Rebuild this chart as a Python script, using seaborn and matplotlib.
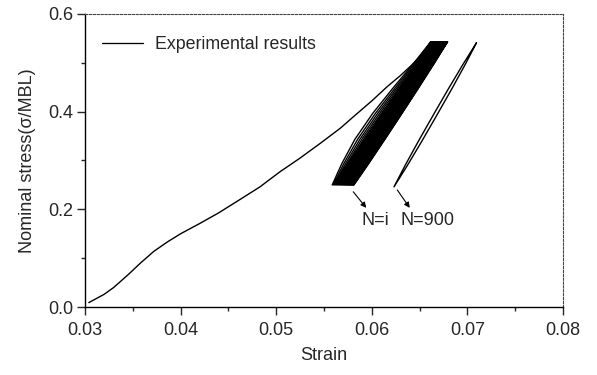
import numpy as np
import pandas as pd
import matplotlib
matplotlib.use("Agg")
import matplotlib.pyplot as plt
from matplotlib.ticker import MultipleLocator, FormatStrFormatter
import seaborn as sns

# Monotonic loading up to the first peak
mono_strain = [0.0304, 0.0320, 0.0330, 0.0345, 0.0358, 0.0372, 0.0386, 0.0400, 0.0420,
               0.0440, 0.0462, 0.0483, 0.0504, 0.0525, 0.0546, 0.0567, 0.0581, 0.0600,
               0.0616, 0.0630, 0.0641, 0.0650, 0.0657, 0.0662]
mono_stress = [0.009, 0.026, 0.040, 0.066, 0.090, 0.114, 0.133, 0.150, 0.171,
               0.193, 0.220, 0.246, 0.277, 0.305, 0.335, 0.366, 0.390, 0.422,
               0.451, 0.474, 0.494, 0.512, 0.527, 0.543]

# Cyclic loading between 0.250 and 0.543 MBL: strain at the trough and the peak of each cycle
cycle_low_stress = 0.250
cycle_high_stress = 0.543
cycle_bottom = [0.05586, 0.05596, 0.05606, 0.05615, 0.05624, 0.05633, 0.05641, 0.05649,
                0.05657, 0.05664, 0.05671, 0.05678, 0.05685, 0.05691, 0.05697, 0.05703,
                0.05709, 0.05715, 0.05720, 0.05725, 0.05730, 0.05735, 0.05740, 0.05745,
                0.05749, 0.05753, 0.05757, 0.05761, 0.05765, 0.05769, 0.05773, 0.05777,
                0.05780, 0.05784, 0.05787, 0.05790, 0.05793, 0.05796, 0.05799, 0.05802,
                0.05805, 0.05808, 0.05811, 0.05813]
cycle_top = [0.06616, 0.06624, 0.06632, 0.06640, 0.06647, 0.06654, 0.06661, 0.06668,
             0.06674, 0.06680, 0.06686, 0.06692, 0.06697, 0.06702, 0.06707, 0.06712,
             0.06716, 0.06720, 0.06724, 0.06728, 0.06732, 0.06735, 0.06739, 0.06742,
             0.06745, 0.06748, 0.06751, 0.06754, 0.06757, 0.06760, 0.06762, 0.06765,
             0.06767, 0.06770, 0.06772, 0.06775, 0.06777, 0.06779, 0.06781, 0.06784,
             0.06786, 0.06788, 0.06791, 0.06793]
# reloading branches of the first cycles bow further to the left
cycle_bow = [3.8, 3.0, 2.4, 1.9, 1.5, 1.2] + [1.0] * 38

# Loop shape: fraction of the stress range and sideways strain offset of each branch
loop_frac = [0.0, 0.15, 0.32, 0.50, 0.68, 0.85, 1.0]
reload_offset = [0.0, -0.00014, -0.00024, -0.00024, -0.00016, -0.00006, 0.0]
unload_offset = [0.0, 0.00008, 0.00012, 0.00013, 0.00012, 0.00008, 0.0]

# Cycle N=900
final_bottom, final_top = 0.06232, 0.07095
final_low, final_high = 0.246, 0.541
final_reload = [0.0, -0.00012, -0.00018, -0.00019, -0.00018, -0.00012, 0.0]
final_unload = [0.0, 0.00012, 0.00018, 0.00019, 0.00018, 0.00012, 0.0]


def loop_rows(name, bottom, top, lo, hi, left, right, bow=1.0):
    frac = np.array(loop_frac)
    stress = lo + frac * (hi - lo)
    base = bottom + frac * (top - bottom)
    up_x = base + bow * np.array(left)
    down_x = (base + np.array(right))[::-1]
    xs = np.concatenate([down_x, up_x])
    ys = np.concatenate([stress[::-1], stress])
    return pd.DataFrame({"strain": xs, "stress": ys, "unit": name})


frames = [pd.DataFrame({"strain": mono_strain, "stress": mono_stress, "unit": "mono"})]
for i, (b, t, w) in enumerate(zip(cycle_bottom, cycle_top, cycle_bow)):
    frames.append(loop_rows(f"c{i}", b, t, cycle_low_stress, cycle_high_stress,
                            reload_offset, unload_offset, w))
frames.append(loop_rows("n900", final_bottom, final_top, final_low, final_high,
                        final_reload, final_unload))
df = pd.concat(frames, ignore_index=True)

sns.set_style("ticks")
plt.rcParams["font.family"] = ["Liberation Sans", "DejaVu Sans"]

fig = plt.figure(figsize=(5.97, 3.75), dpi=100)
ax = fig.add_axes([0.1424, 0.1813, 0.8006, 0.7814])

sns.lineplot(data=df, x="strain", y="stress", units="unit", estimator=None, sort=False,
             color="black", linewidth=1.0, ax=ax, legend=False)

ax.plot([], [], color="black", linewidth=0.95, label="Experimental results")
ax.legend(loc="upper left", bbox_to_anchor=(0.035, 0.925), frameon=False, fontsize=12.8,
          handlelength=2.3, handletextpad=0.7, borderpad=0, borderaxespad=0)

ax.annotate("", xy=(0.05942, 0.203), xytext=(0.05806, 0.236),
            arrowprops=dict(arrowstyle="-|>", color="black", lw=0.8,
                            mutation_scale=8, shrinkA=0, shrinkB=0))
ax.annotate("", xy=(0.06397, 0.203), xytext=(0.06267, 0.2396),
            arrowprops=dict(arrowstyle="-|>", color="black", lw=0.8,
                            mutation_scale=8, shrinkA=0, shrinkB=0))
ax.text(0.05893, 0.177, "N=i", fontsize=13, ha="left", va="center")
ax.text(0.06302, 0.177, "N=900", fontsize=13, ha="left", va="center")

ax.set_xlim(0.03, 0.08)
ax.set_ylim(0.0, 0.6)
ax.xaxis.set_major_locator(MultipleLocator(0.01))
ax.xaxis.set_minor_locator(MultipleLocator(0.005))
ax.yaxis.set_major_locator(MultipleLocator(0.2))
ax.yaxis.set_minor_locator(MultipleLocator(0.1))
ax.xaxis.set_major_formatter(FormatStrFormatter("%.2f"))
ax.yaxis.set_major_formatter(FormatStrFormatter("%.1f"))

ax.tick_params(which="major", direction="out", length=5.5, width=1.0, labelsize=13)
ax.tick_params(axis="x", which="major", pad=5)
ax.tick_params(axis="y", which="major", pad=3)
ax.tick_params(which="minor", direction="out", length=3, width=1.0)
ax.tick_params(top=False, right=False, which="both")

for side in ("left", "bottom"):
    ax.spines[side].set_linewidth(1.0)
    ax.spines[side].set_color("black")
for side in ("top", "right"):
    ax.spines[side].set_visible(True)
    ax.spines[side].set_linewidth(0.8)
    ax.spines[side].set_color("#444444")
    ax.spines[side].set_linestyle((0, (2, 1.5)))

ax.set_xlabel("Strain", fontsize=13, labelpad=6)
ax.set_ylabel("Nominal stress(σ/MBL)", fontsize=13, labelpad=9)

fig.savefig("out.png", dpi=100, facecolor="white")
